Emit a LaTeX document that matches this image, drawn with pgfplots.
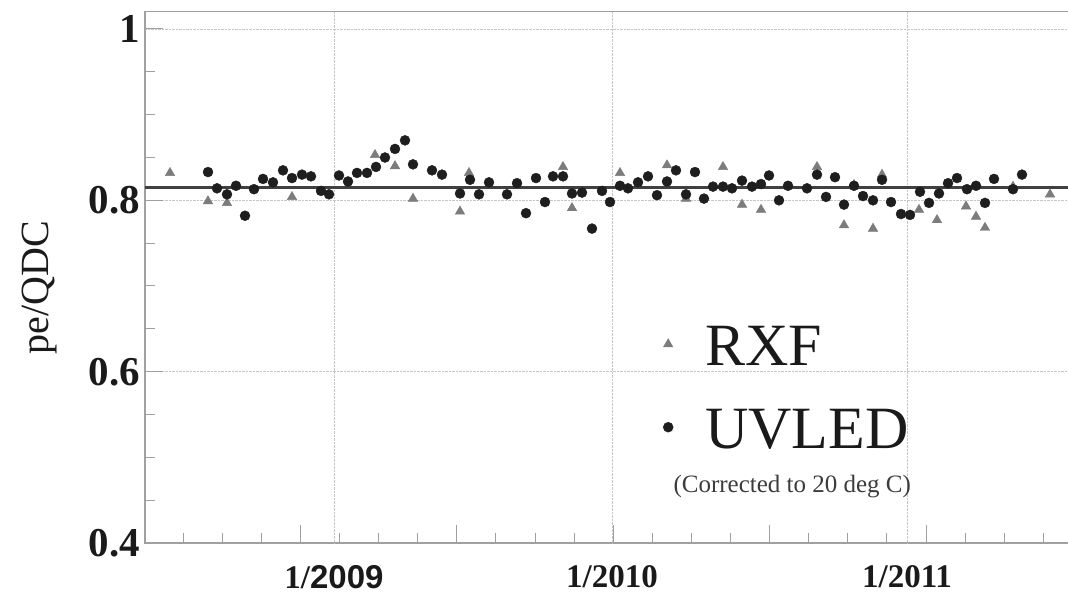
\documentclass[border=0pt]{standalone}
\usepackage{fontspec}
\setmainfont{Liberation Serif}
\newfontfamily\arialfont{Liberation Sans}
\usepackage{pgfplots}
\pgfplotsset{compat=1.18}
\definecolor{circ}{HTML}{1E1E1E}
\definecolor{tri}{HTML}{7C7C7C}
\definecolor{fitline}{HTML}{404040}
\definecolor{axisgray}{HTML}{A0A0A0}
\definecolor{labcol}{HTML}{1A1A1A}
\pgfplotstableread{
x y
170 0.832
208 0.799
227 0.797
292 0.804
375 0.853
395 0.840
413 0.802
460 0.787
469 0.832
563 0.839
572 0.791
620 0.832
667 0.841
686 0.802
723 0.839
742 0.795
761 0.789
817 0.839
844 0.771
854 0.818
873 0.767
882 0.830
919 0.789
937 0.777
966 0.793
976 0.781
985 0.768
1013 0.816
1050 0.807
}\rxf
\pgfplotstableread{
x y
208 0.833
217 0.814
227 0.807
236 0.817
245 0.782
254 0.813
263 0.825
273 0.821
283 0.835
292 0.826
302 0.830
311 0.828
321 0.811
329 0.807
339 0.829
348 0.822
357 0.832
367 0.832
376 0.839
385 0.850
395 0.860
405 0.870
413 0.842
432 0.835
442 0.830
460 0.808
470 0.824
479 0.807
489 0.821
507 0.807
517 0.820
526 0.785
536 0.826
545 0.798
553 0.828
563 0.828
572 0.808
582 0.809
592 0.767
602 0.811
610 0.798
620 0.817
628 0.814
638 0.821
648 0.828
657 0.806
667 0.822
676 0.835
686 0.807
695 0.833
704 0.802
713 0.816
723 0.816
732 0.814
742 0.823
752 0.816
761 0.819
769 0.829
779 0.800
788 0.817
807 0.814
817 0.830
826 0.804
835 0.827
844 0.795
854 0.817
863 0.805
873 0.800
882 0.824
891 0.798
901 0.784
910 0.783
920 0.810
929 0.797
939 0.808
948 0.820
957 0.826
967 0.813
976 0.817
985 0.797
994 0.825
1013 0.813
1022 0.830
}\uvled
\begin{document}
\begin{tikzpicture}
\begin{axis}[
  at={(145pt,53pt)}, anchor=south west,
  scale only axis, width=930pt, height=531.3pt,
  xmin=145, xmax=1075, ymin=0.4, ymax=1.0202,
  axis line style={axisgray, line width=1.2pt},
  tick align=inside, xtick pos=lower, ytick pos=left,
  major tick length=18pt, minor tick length=10pt,
  tick style={axisgray, line width=1pt},
  ytick={0.4,0.6,0.8,1.0},
  yticklabels={0.4,0.6,0.8,1},
  minor y tick num=3,
  ymajorgrids=true,
  major grid style={densely dotted, gray!45, line width=0.9pt},
  xtick={300.4,456.8,613.2,769.6,926},
  xticklabels={,,,,},
  minor xtick={183.1,222.2,261.3,339.5,378.6,417.7,495.9,535,574.1,652.3,691.4,730.5,808.7,847.8,886.9,965.1,1004.2,1043.3},
  extra x ticks={334,612,907},
  extra x tick labels={1/{\arialfont 2009},1/2010,1/2011},
  extra x tick style={grid=major, major tick length=0pt},
  yticklabel style={font=\bfseries\fontsize{41}{41}\selectfont, text=labcol, inner sep=0pt, xshift=-5pt},
  xticklabel style={font=\bfseries\fontsize{33}{33}\selectfont, text=labcol, inner sep=0pt, anchor=north, yshift=-22pt},
  ylabel={pe/QDC},
  every axis y label/.style={at={(axis description cs:-0.113,0.48)}, rotate=90, anchor=center, font=\fontsize{40}{40}\selectfont, text=labcol},
  legend image code/.code={\path[draw=none,fill=none] (-8pt,-6pt) rectangle (8pt,6pt); \draw[#1] plot coordinates {(0pt,0pt)};},
  legend cell align=left,
  legend style={at={(axis cs:660,0.6568)}, anchor=north west, draw=none, fill=none, inner sep=0pt,
    font=\fontsize{60}{60}\selectfont, text=labcol,
    nodes={inner sep=0pt, text height=42pt, text depth=0pt},
    row sep=41pt, column sep=29pt},
]
\addplot[only marks, mark=triangle*, mark size=5.5pt, color=tri] table {\rxf};
\addlegendentry{RXF}
\addplot[fitline, line width=3pt, forget plot] coordinates {(145,0.8144) (1075,0.8144)};
\addplot[only marks, mark=*, mark size=5pt, color=circ] table {\uvled};
\addlegendentry{UVLED}
\node[anchor=base west, font=\fontsize{25}{25}\selectfont, text=labcol!85] at (axis cs:670,0.4595) {(Corrected to 20 deg C)};
\end{axis}
\pgfresetboundingbox
\useasboundingbox (0pt,0pt) rectangle (1068pt,596pt);
\end{tikzpicture}
\end{document}
